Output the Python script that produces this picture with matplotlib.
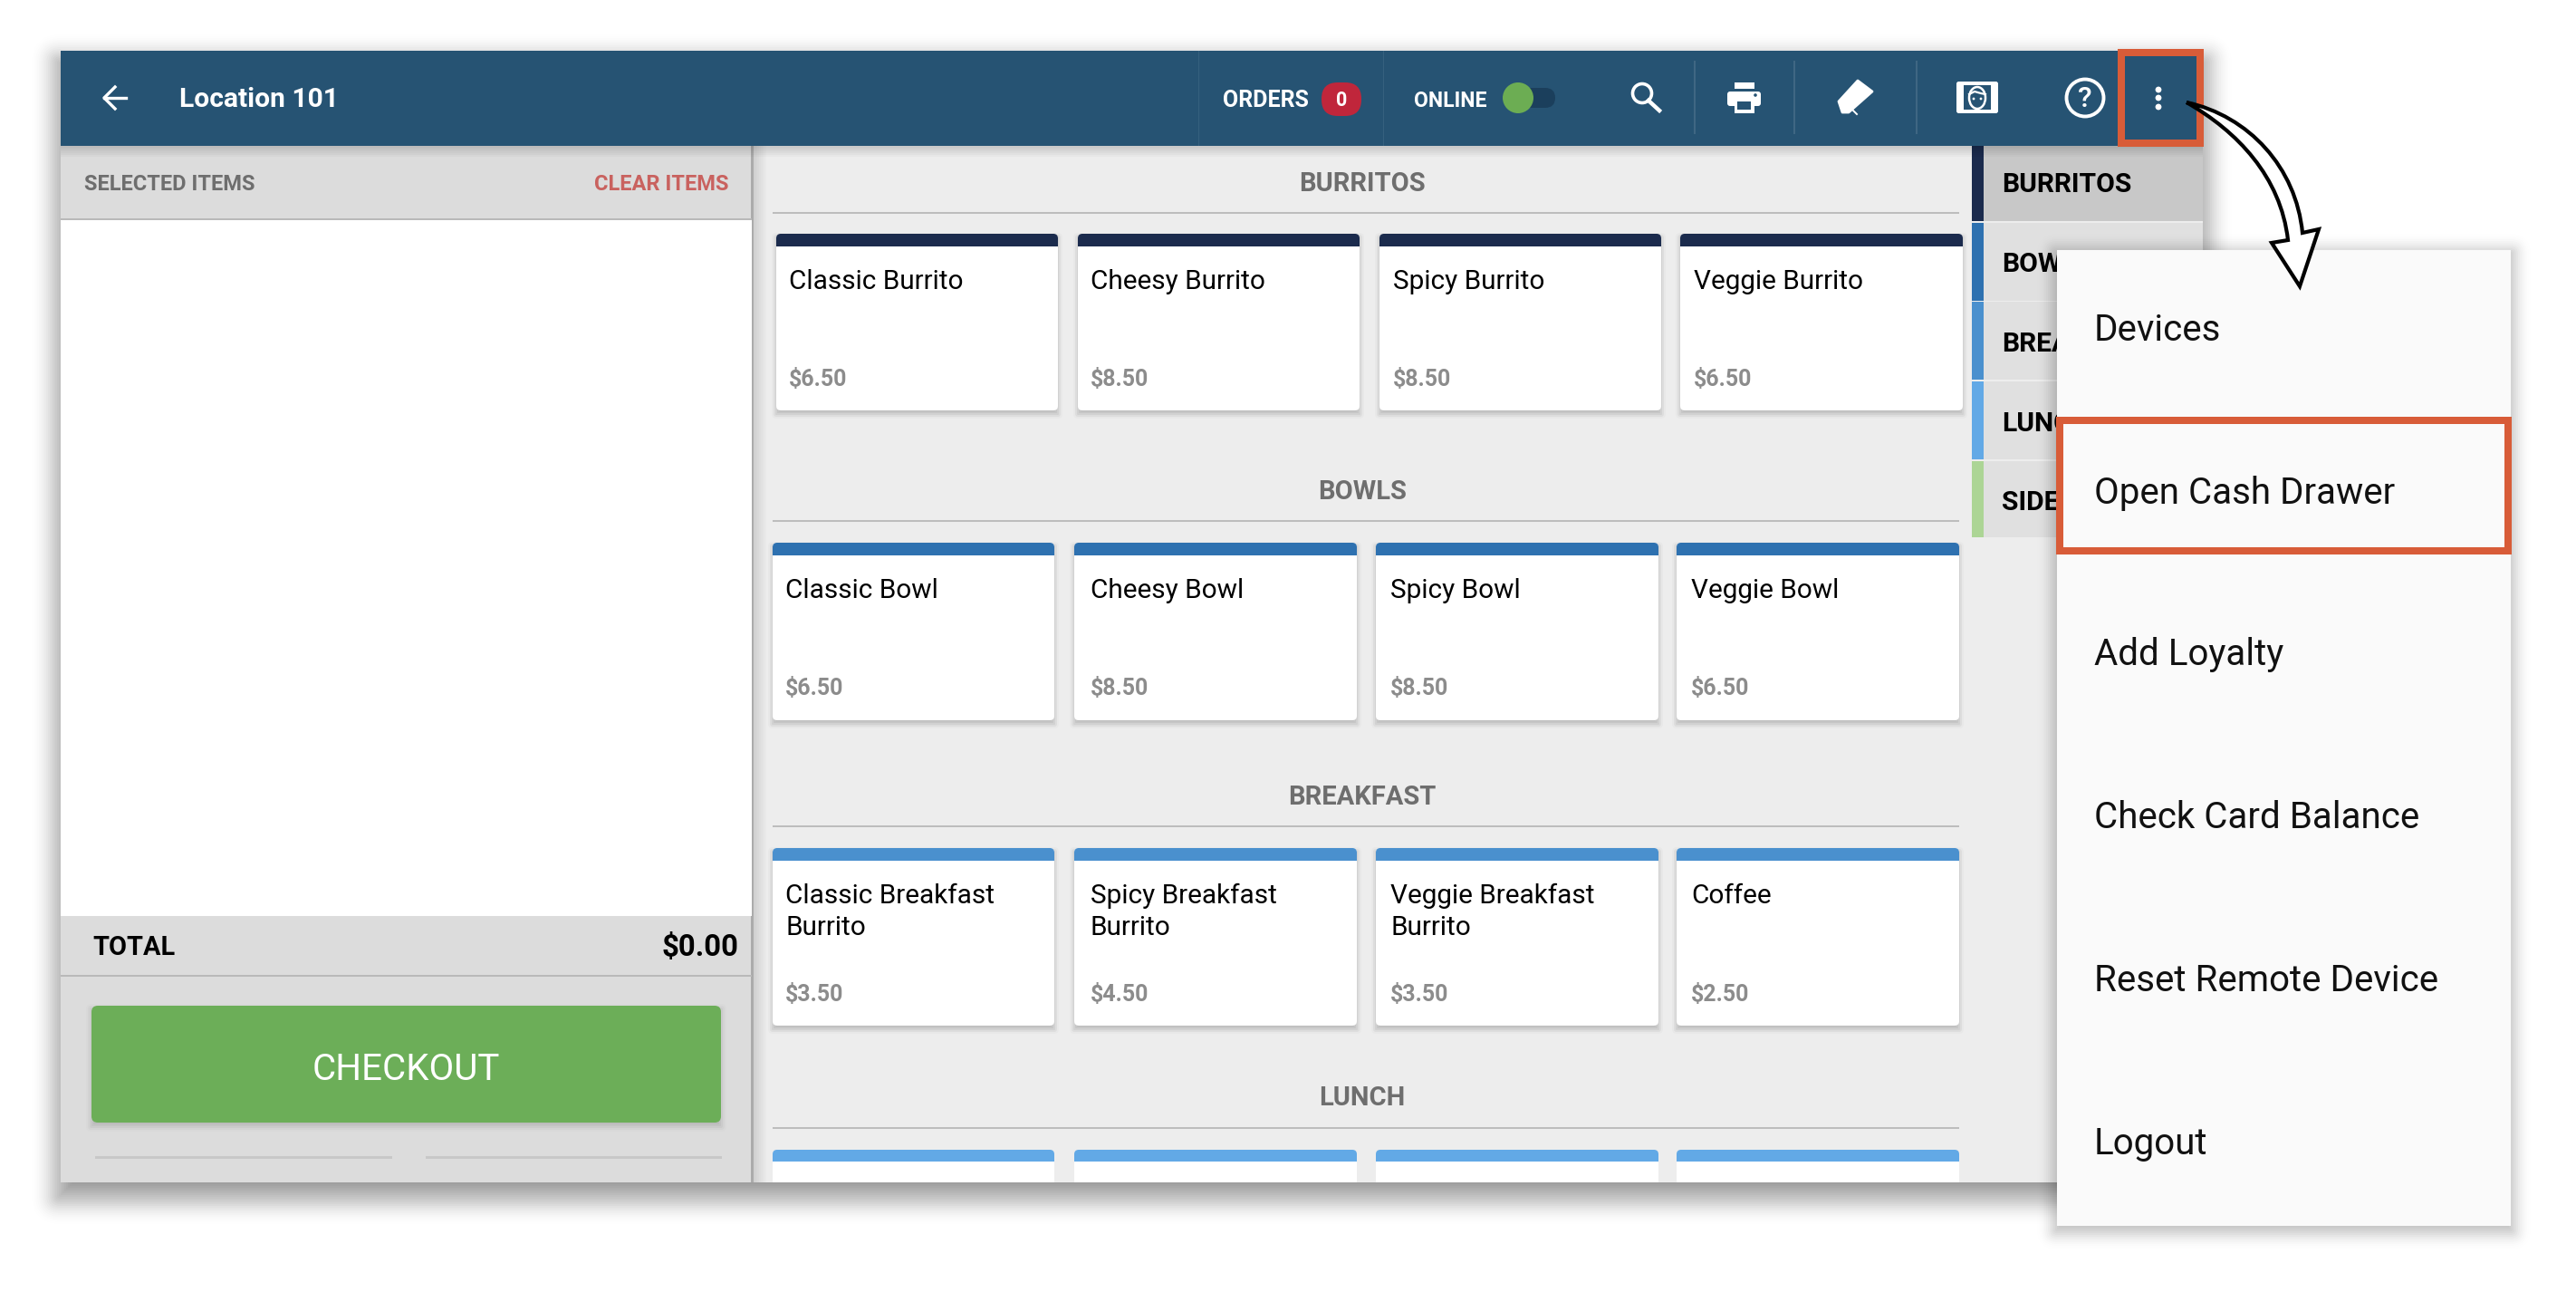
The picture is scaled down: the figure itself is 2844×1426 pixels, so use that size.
import matplotlib
matplotlib.use("Agg")
import matplotlib.pyplot as plt
from matplotlib.patches import Rectangle, FancyBboxPatch, Circle, Ellipse, Polygon, PathPatch
from matplotlib.path import Path

plt.rcParams['font.family'] = ['Roboto', 'DejaVu Sans']

# content of the screen
sections = ["BURRITOS", "BOWLS", "BREAKFAST", "LUNCH"]
burrito_names = ["Classic Burrito", "Cheesy Burrito", "Spicy Burrito", "Veggie Burrito"]
burrito_prices = ["$6.50", "$8.50", "$8.50", "$6.50"]
bowl_names = ["Classic Bowl", "Cheesy Bowl", "Spicy Bowl", "Veggie Bowl"]
bowl_prices = ["$6.50", "$8.50", "$8.50", "$6.50"]
breakfast_names = ["Classic Breakfast\nBurrito", "Spicy Breakfast\nBurrito", "Veggie Breakfast\nBurrito", "Coffee"]
breakfast_prices = ["$3.50", "$4.50", "$3.50", "$2.50"]
# the dropdown hides the rest of the long label, only the start of it shows
sidebar_labels = ["BURRITOS", "BOWLS", "BREAK", "LUNCH", "SIDES"]
menu_items = ["Devices", "Open Cash Drawer", "Add Loyalty", "Check Card Balance", "Reset Remote Device", "Logout"]

HEADER = "#265373"
ORANGE = "#D85C38"
PAGE = "#EDEDED"
GREY = "#DCDCDC"

W, H = 2844, 1426
fig = plt.figure(figsize=(W / 100, H / 100), dpi=100)
ax = fig.add_axes([0, 0, 1, 1])
ax.set_xlim(0, W)
ax.set_ylim(H, 0)
ax.axis("off")


def rect(x0, y0, x1, y1, color, z=1, **kw):
    ax.add_patch(Rectangle((x0, y0), x1 - x0, y1 - y0, facecolor=color, edgecolor="none", zorder=z, **kw))


def rrect(x0, y0, x1, y1, color, r=5, z=1, **kw):
    ax.add_patch(FancyBboxPatch((x0, y0), x1 - x0, y1 - y0, boxstyle="round,pad=0,rounding_size=%g" % r,
                                facecolor=color, edgecolor="none", zorder=z, **kw))


def shadow(x0, y0, x1, y1, grow, dy=0, alpha=.02, z=1):
    # stacked see-through boxes, poor man's blur. fades out towards the rim
    for i in range(grow, -grow // 2, -2):
        a = alpha * min(1.0, (1 - i / grow) * 1.5)
        if a > 0:
            rrect(x0 - i, y0 - i + dy, x1 + i, y1 + i + dy, "black", r=max(i, 1), z=z, alpha=a)


def label(x, y, s, size, color="black", weight="normal", ha="left", z=5, **kw):
    return ax.text(x, y, s, fontsize=size, color=color, fontweight=weight, ha=ha, va="center", zorder=z, **kw)


# app window
shadow(67, 56, 2432, 1305, 34, dy=14, alpha=.024, z=1)
rect(67, 56, 2432, 1305, PAGE, z=2)

# left panel
rect(67, 161, 830, 1305, GREY, z=3)
for i in range(8):
    rect(830, 161, 830 + 2 * (8 - i), 1305, "black", z=3, alpha=.014)
rect(829, 161, 832, 1305, "#ABABAB", z=3)
rect(67, 242, 830, 1011, "white", z=3)
rect(67, 241, 830, 243, "#B9B9B9", z=3)
rect(67, 1076, 830, 1078, "#B9B9B9", z=3)
label(93, 204, "SELECTED ITEMS", 17, "#6E6E6E", "bold")
label(804, 204, "CLEAR ITEMS", 17, "#C9625F", "bold", ha="right")
label(102, 1046, "TOTAL", 20.8, "black", "bold")
label(815, 1046, "$0.00", 23.8, "black", "bold", ha="right")
shadow(101, 1110, 796, 1239, 8, dy=4, alpha=.035, z=3)
rrect(101, 1110, 796, 1239, "#6CAE58", r=7, z=3)
label(448, 1181, "CHECKOUT", 29, "white", ha="center")
rect(105, 1276, 433, 1279, "#C8C8C8", z=3)
rect(470, 1276, 797, 1279, "#C8C8C8", z=3)

# header
for i in range(6):
    rect(67, 161, 2432, 161 + 2 * (6 - i), "black", z=3.3, alpha=.022)
rect(67, 56, 2432, 161, HEADER, z=4)
for sx in [1323, 1527]:
    rect(sx, 56, sx + 1, 161, "#35607E", z=4)
for sx in [1870, 1980, 2115]:
    rect(sx, 67, sx + 1.5, 148, "#3F6783", z=4)
ax.plot([139, 115], [108, 108], color="white", lw=2.4, zorder=5)
ax.plot([127, 115, 127], [96, 108, 120], color="white", lw=2.4, zorder=5)
label(198, 110, "Location 101", 21.6, "white", "bold")
label(1350, 111, "ORDERS", 18, "white", "bold")
rrect(1459, 91, 1503, 128, "#C0263B", r=18, z=5)
label(1481, 111, "0", 15.5, "white", "bold", ha="center", z=6)
label(1561, 111, "ONLINE", 16.6, "white", "bold")
rrect(1676, 97, 1717, 119, "#1B3F5C", r=11, z=5)
ax.add_patch(Circle((1676, 108), 17, facecolor="#6CAD53", edgecolor="none", zorder=6))

# header icons
ax.add_patch(Circle((1813, 103), 10.5, facecolor="none", edgecolor="white", lw=2.6, zorder=5))
ax.plot([1820, 1832], [111, 122], color="white", lw=3.2, zorder=5)
rect(1915, 91, 1937, 98, "white", z=5)
rrect(1907, 101, 1944, 117, "white", r=3, z=5)
rect(1915, 110, 1937, 125, "white", z=5)
rect(1918, 112, 1933, 121, HEADER, z=6)
ax.add_patch(Circle((1938, 105), 1.8, facecolor=HEADER, edgecolor="none", zorder=6))
ax.add_patch(Polygon([(2051, 89), (2067, 101), (2041, 124), (2034, 124), (2030, 112)], closed=True,
                     facecolor="white", edgecolor="white", lw=2, joinstyle="round", zorder=5))
ax.plot([2046, 2050], [122, 126], color="white", lw=1.4, zorder=5)
rrect(2160, 90, 2206, 125, "white", r=2.5, z=5)
rect(2168, 94, 2198, 121, HEADER, z=6)
ax.add_patch(Ellipse((2183, 108), 18, 24, facecolor="none", edgecolor="white", lw=1.8, zorder=7))
ax.plot([2174, 2180, 2187, 2192], [104, 101, 103, 104], color="white", lw=1.6, zorder=7)
for ex in [2179, 2187]:
    ax.add_patch(Circle((ex, 109), 1.4, facecolor="white", edgecolor="none", zorder=7))
ax.add_patch(Circle((2302, 108), 20.5, facecolor="none", edgecolor="white", lw=2.8, zorder=5))
label(2302, 110, "?", 23, "white", "medium", ha="center")
for dy in [99, 108, 118]:
    ax.add_patch(Circle((2383, dy), 3.4, facecolor="white", edgecolor="none", zorder=5))

# sidebar, labels run under the dropdown so they get cut at its left edge
side_tops = [161, 246, 333, 421, 509]
side_bots = [244, 332, 419, 507, 593]
side_cols = ["#1B2B4D", "#2E71B0", "#4A90CE", "#62A9E6", "#ACD595"]
side_mids = [204, 292, 380, 468, 555]
for top, bot, col, mid, name in zip(side_tops, side_bots, side_cols, side_mids, sidebar_labels):
    rect(2190, top, 2432, bot, "#C8C8C8" if name == "BURRITOS" else "#E0E0E0", z=3)
    rect(2177, top, 2190, bot, col, z=3)
    t = label(2210, mid, name, 21.6, "black", "bold", z=3.5)
    if name != "BURRITOS":
        t.set_clip_path(Rectangle((2190, top), 81, bot - top, transform=ax.transData))


def card(x0, x1, y0, y1, color, text_x, name=None, price=None, name_y=0, price_y=0):
    shadow(x0, y0, x1, y1, 7, dy=4, alpha=.05, z=3)
    rrect(x0, y0, x1, y1, "white", r=5, z=3)
    rrect(x0, y0, x1, y0 + 20, color, r=5, z=3.1)
    rect(x0, y0 + 14, x1, y0 + 21, "white", z=3.2)
    for i, line in enumerate(name.split("\n")):
        label(text_x, name_y + i * 34.5, line, 21.4, "black")
    label(text_x, price_y, price, 18, "#8C8C8C", "bold")


# item sections
col_lefts = [853, 1186, 1519, 1851]
col_rights = [1164, 1498, 1831, 2163]
burrito_lefts = [857, 1190, 1523, 1855]
burrito_rights = [1168, 1501, 1834, 2167]
burrito_text_x = [871, 1204, 1538, 1870]
row_text_x = [867, 1204, 1535, 1867]
heading_ys = [203, 543, 880, 1212]
rule_ys = [235, 575, 912, 1245]
for s, hy, ry in zip(sections, heading_ys, rule_ys):
    label(1504, hy, s, 21, "#6E6E6E", "bold", ha="center")
    rect(853, ry - 1, 2163, ry + 1, "#BDBDBD", z=3)

for i in range(4):
    card(burrito_lefts[i], burrito_rights[i], 258, 453, "#1B2B4D", burrito_text_x[i],
         burrito_names[i], burrito_prices[i], 311, 419)
    card(col_lefts[i], col_rights[i], 599, 795, "#2E71B0", row_text_x[i],
         bowl_names[i], bowl_prices[i], 652, 760)
    card(col_lefts[i], col_rights[i], 936, 1132, "#4A90CE", row_text_x[i],
         breakfast_names[i], breakfast_prices[i], 989, 1098)
    rrect(col_lefts[i], 1269, col_rights[i], 1300, "#62A9E6", r=5, z=3.1)
    rect(col_lefts[i], 1282, col_rights[i], 1305, "white", z=3.2)

# orange box around the dots
rect(2338, 54, 2433, 62, ORANGE, z=8)
rect(2338, 154, 2433, 162, ORANGE, z=8)
rect(2338, 54, 2346, 162, ORANGE, z=8)
rect(2425, 54, 2433, 162, ORANGE, z=8)

# dropdown menu
shadow(2271, 276, 2772, 1353, 24, dy=4, alpha=.022, z=9)
rect(2271, 276, 2772, 1353, "#FAFAFA", z=10)
menu_ys = [364, 544, 723, 903, 1082, 1262]
for item, my in zip(menu_items, menu_ys):
    label(2312, my, item, 29, "#111111", z=11)
rect(2270, 460, 2773, 468, ORANGE, z=11)
rect(2270, 604, 2773, 612, ORANGE, z=11)
rect(2270, 460, 2278, 612, ORANGE, z=11)
rect(2765, 460, 2773, 612, ORANGE, z=11)

# curved callout arrow
verts = [(2414, 113), (2483, 128), (2535, 185), (2542, 257), (2560, 253), (2539, 316), (2508, 268), (2526, 265),
         (2518, 195), (2470, 145), (2414, 113)]
codes = [Path.MOVETO, Path.CURVE4, Path.CURVE4, Path.CURVE4, Path.LINETO, Path.LINETO, Path.LINETO, Path.LINETO,
         Path.CURVE4, Path.CURVE4, Path.CURVE4]
ax.add_patch(PathPatch(Path(verts, codes), facecolor="white", edgecolor="black", lw=3, joinstyle="miter", zorder=12))

fig.savefig("out.png", dpi=100)
